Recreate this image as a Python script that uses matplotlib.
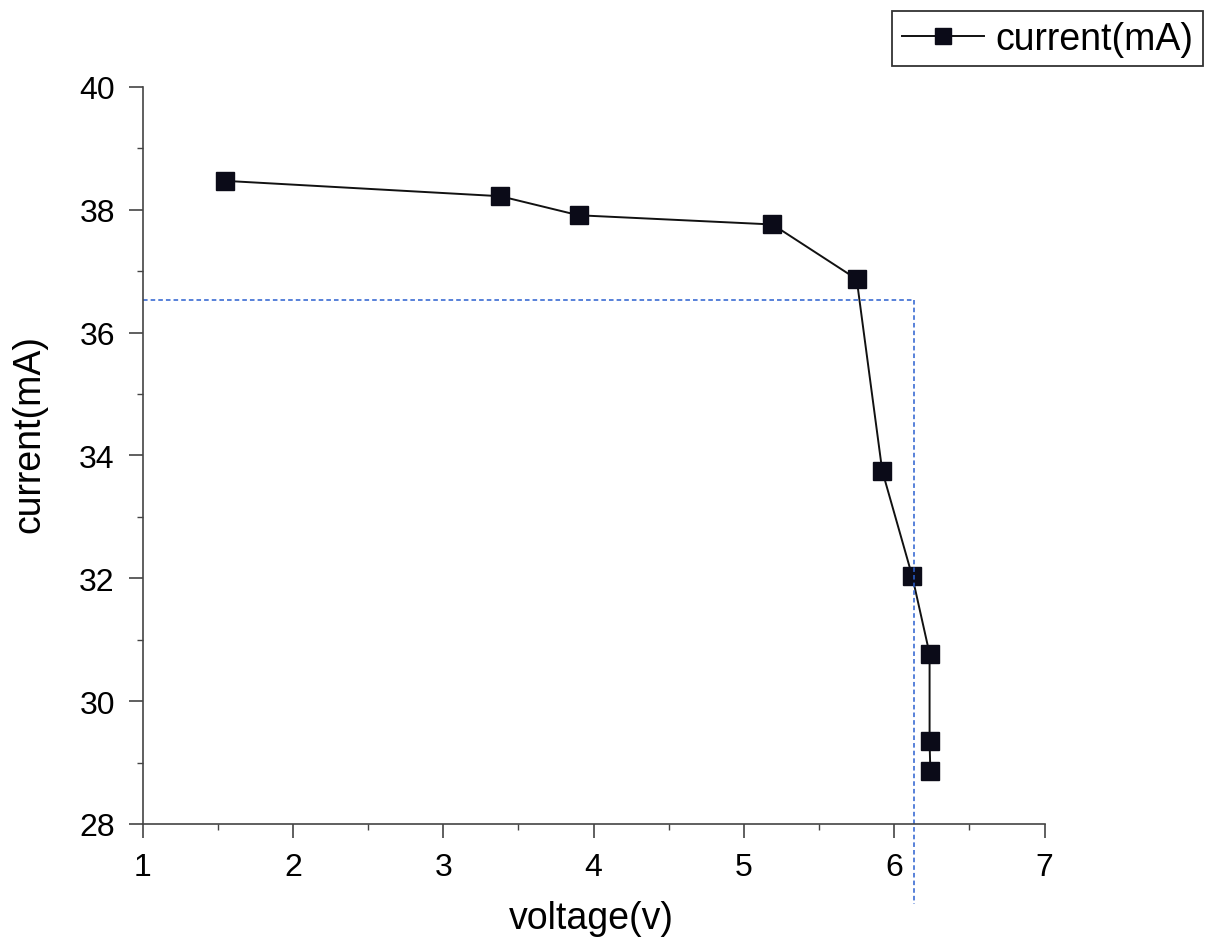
import matplotlib.pyplot as plt
from matplotlib.ticker import MultipleLocator

# data
voltage = [1.55, 3.38, 3.90, 5.19, 5.75, 5.92, 6.12, 6.235, 6.235, 6.24]
current = [38.47, 38.22, 37.91, 37.76, 36.87, 33.75, 32.03, 30.77, 29.35, 28.86]

# dashed guide lines (blue)
guide_i = 36.53
guide_v = 6.13

plt.rcParams['font.family'] = ['Liberation Sans', 'DejaVu Sans']

fig = plt.figure(figsize=(12.09, 9.45), dpi=100)
ax = fig.add_axes([0.118, 0.127, 0.746, 0.780])

line, = ax.plot(voltage, current, color='#111111', lw=1.4, marker='s',
                markersize=13, markerfacecolor='#0b0b18', markeredgecolor='#0b0b18',
                label='current(mA)')

ax.plot([1, guide_v], [guide_i, guide_i], color='#2a5fd0', lw=1.1, ls=(0, (3, 2)))
ax.plot([guide_v, guide_v], [guide_i, 26.7], color='#2a5fd0', lw=1.1, ls=(0, (3, 2)),
        clip_on=False)

ax.set_xlim(1, 7)
ax.set_ylim(28, 40)
ax.xaxis.set_major_locator(MultipleLocator(1))
ax.xaxis.set_minor_locator(MultipleLocator(0.5))
ax.yaxis.set_major_locator(MultipleLocator(2))
ax.yaxis.set_minor_locator(MultipleLocator(1))

ax.spines['top'].set_visible(False)
ax.spines['right'].set_visible(False)
for s in ['left', 'bottom']:
    ax.spines[s].set_color('#444444')
    ax.spines[s].set_linewidth(1.2)

ax.tick_params(which='major', direction='out', length=10, width=1.2, labelsize=23,
               color='#444444', pad=10)
ax.tick_params(which='minor', direction='out', length=4, width=1.0, color='#444444')

ax.set_xlabel('voltage(v)', fontsize=27)
ax.set_ylabel('current(mA)', fontsize=27)
ax.xaxis.set_label_coords(0.497, -0.103)
ax.yaxis.set_label_coords(-0.106, 0.53)

leg = fig.legend(handles=[line], loc='upper right', bbox_to_anchor=(0.995, 0.987),
                 borderaxespad=0, fontsize=27, frameon=True, fancybox=False,
                 edgecolor='black', handlelength=2.2, borderpad=0.25,
                 handletextpad=0.3, markerscale=0.85)
leg.get_frame().set_linewidth(1.3)

fig.savefig('out.png', dpi=100, facecolor='white')
